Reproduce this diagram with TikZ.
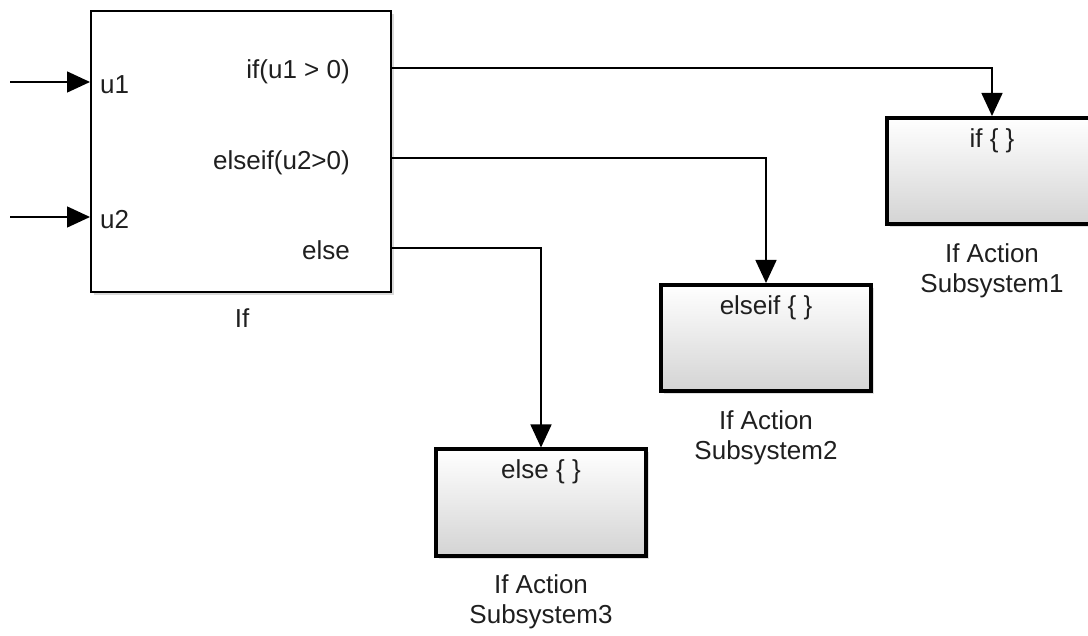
\documentclass[tikz,border=0pt]{standalone}
\usepackage{fontspec}
\setmainfont{Liberation Sans}
\usetikzlibrary{arrows.meta,shadows,positioning}

\tikzset{
  ifblk/.style={draw, line width=2pt, fill=white, inner sep=0pt,
    minimum width=300pt, minimum height=281pt,
    drop shadow={opacity=0.3, shadow xshift=3pt, shadow yshift=-3pt}},
  actblk/.style={draw, line width=4pt, top color=white, middle color=white!96!black,
    bottom color=black!17, inner sep=0pt, minimum width=210pt, minimum height=106pt,
    drop shadow={opacity=0.25, shadow xshift=3pt, shadow yshift=-3pt}},
  sig/.style={line width=1.5pt, -{Triangle[length=23pt,width=21pt]}},
  txt/.style={inner sep=0pt, font=\fontsize{26}{30}\selectfont, text=black!88},
  blklbl/.style={txt, align=center},
}

\begin{document}
\begin{tikzpicture}[x=1pt,y=1pt,yscale=-1,xscale=1]
  \useasboundingbox (0,0) rectangle (1088,636);
  \clip (0,0) rectangle (1088,636);

  % If block
  \node[ifblk] (if) at (241,151.5) {};
  \node[txt, anchor=west] (u1) at (100,85) {u1};
  \node[txt, anchor=west] (u2) at (100,220) {u2};
  \node[txt, anchor=east] (p1) at (350,72) {if(u1 > 0)};
  \node[txt, anchor=east] (p2) at (350,163) {elseif(u2>0)};
  \node[txt, anchor=east] (p3) at (350,250) {else};
  \node[txt] (iflbl) at (242,318) {If};

  % If Action subsystems
  \node[actblk] (sub1) at (992,171) {};
  \node[txt, anchor=north] (tag1) at ([yshift=12pt]sub1.north) {if \{ \}};
  \node[blklbl, below=17pt of sub1] (lbl1) {If Action\\Subsystem1};

  \node[actblk] (sub2) at (766,338) {};
  \node[txt, anchor=north] (tag2) at ([yshift=12pt]sub2.north) {elseif \{ \}};
  \node[blklbl, below=17pt of sub2] (lbl2) {If Action\\Subsystem2};

  \node[actblk] (sub3) at (541,502.5) {};
  \node[txt, anchor=north] (tag3) at ([yshift=12pt]sub3.north) {else \{ \}};
  \node[blklbl, below=17pt of sub3] (lbl3) {If Action\\Subsystem3};

  % inputs
  \coordinate (in1) at (10,82);
  \coordinate (in2) at (10,217);
  \draw[sig] (in1) -- (in1 -| if.west);
  \draw[sig] (in2) -- (in2 -| if.west);

  % outputs
  \coordinate (o1) at (if.east |- 0,68);
  \coordinate (o2) at (if.east |- 0,158);
  \coordinate (o3) at (if.east |- 0,248);
  \draw[sig] (o1) -| (sub1.north);
  \draw[sig] (o2) -| (sub2.north);
  \draw[sig] (o3) -| (sub3.north);
\end{tikzpicture}
\end{document}
